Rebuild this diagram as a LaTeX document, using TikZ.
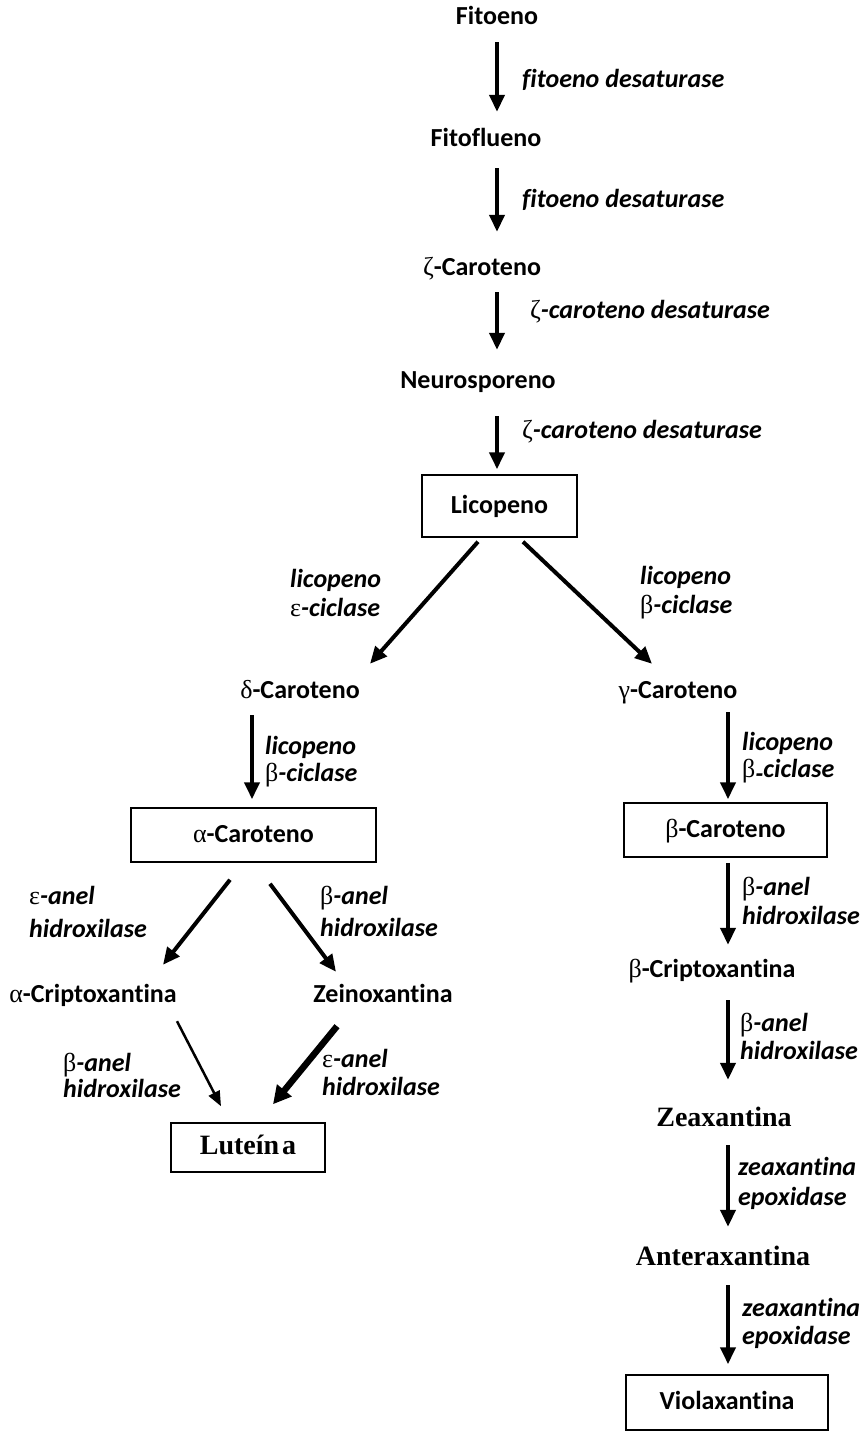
\documentclass[tikz,border=0pt]{standalone}
\usepackage{fontspec}
\setmainfont{Carlito}[Ligatures=NoCommon]
\newfontfamily\grkfont{Liberation Serif}
\newfontfamily\tmsfont{Liberation Serif}
\usetikzlibrary{arrows.meta,calc}
\newcommand\gk[1]{{\grkfont\mdseries\upshape #1}}
\begin{document}
\begin{tikzpicture}[x=1pt,y=-1pt,
  mol/.style={font=\fontsize{26}{30}\selectfont\bfseries, inner sep=0pt, text height=18pt, text depth=4pt, anchor=center},
  tmol/.style={font=\fontsize{28}{32}\selectfont\tmsfont\bfseries, inner sep=0pt, text height=18pt, text depth=4pt, anchor=center},
  molbox/.style={draw, line width=1.5pt, inner sep=0pt, text height=18pt, text depth=4pt, font=\fontsize{26}{30}\selectfont\bfseries},
  enz/.style={font=\fontsize{26}{28}\selectfont\bfseries\itshape, anchor=west, align=left, inner sep=0pt},
  arr/.style={line width=4pt, -{Triangle[length=17pt,width=15pt]}},
  thinarr/.style={line width=2.5pt, -{Triangle[length=15pt,width=12pt]}},
  thickarr/.style={line width=6.5pt, -{Triangle[length=18pt,width=18pt]}},
]
\useasboundingbox (0,0) rectangle (865,1432);
\fill[white] (0,0) rectangle (865,1432);

% molecules
\node[mol] (fitoeno) at (497,17) {Fitoeno};
\node[mol] (fitoflueno) at (486,139) {Fitoflueno};
\node[mol] (zcar) at (482,268) {\gk{ζ}-Caroteno};
\node[mol] (neuro) at (478,381) {Neurosporeno};
\node[molbox, minimum width=155pt, minimum height=62pt] (licopeno) at (499.5,506) {Licopeno};
\node[mol] (dcar) at (300,691) {\gk{δ}-Caroteno};
\node[mol] (gcar) at (678,691) {\gk{γ}-Caroteno};
\node[molbox, minimum width=245pt, minimum height=54pt] (acar) at (253.5,835) {\gk{α}-Caroteno};
\node[molbox, minimum width=203pt, minimum height=54pt] (bcar) at (725.5,830) {\gk{β}-Caroteno};
\node[mol] (bcrip) at (712,970) {\gk{β}-Criptoxantina};
\node[tmol] (zea) at (724,1119) {Zeaxantina};
\node[tmol] (anter) at (723,1258) {Anteraxantina};
\node[molbox, minimum width=202pt, minimum height=55pt] (viol) at (727,1402.5) {Violaxantina};
\node[mol] (acrip) at (93,995) {\gk{α}-Criptoxantina};
\node[mol] (zein) at (383,995) {Zeinoxantina};
\node[molbox, minimum width=154pt, minimum height=49pt, font=\fontsize{28}{32}\selectfont\tmsfont\bfseries] (lut) at (248,1147.5) {Luteín\hspace{3pt}a};

% enzymes
\node[enz] (e1) at (522,80) {fitoeno desaturase};
\node[enz] (e2) at (522,200) {fitoeno desaturase};
\node[enz] (e3) at (530,312) {\gk{ζ}-caroteno desaturase};
\node[enz] (e4) at (522,432) {\gk{ζ}-caroteno desaturase};
\node[enz, font=\fontsize{26}{29}\selectfont\bfseries\itshape] (e5) at (290,592.5) {licopeno\\\gk{ε}-ciclase};
\node[enz, font=\fontsize{26}{29}\selectfont\bfseries\itshape] (e6) at (640,592.5) {licopeno\\\gk{β}-ciclase};
\node[enz, font=\fontsize{26}{27}\selectfont\bfseries\itshape] (e7) at (265,761.5) {licopeno\\\gk{β}-ciclase};
\node[enz, font=\fontsize{26}{27}\selectfont\bfseries\itshape] (e8) at (742,757.5) {licopeno\\\gk{β}\raisebox{-5pt}{-}ciclase};
\node[enz, font=\fontsize{26}{29}\selectfont\bfseries\itshape] (e9) at (742,900.5) {\gk{β}-anel\\hidroxilase};
\node[enz, font=\fontsize{26}{28}\selectfont\bfseries\itshape] (e10) at (740,1036) {\gk{β}-anel\\hidroxilase};
\node[enz, font=\fontsize{26}{30}\selectfont\bfseries\itshape] (e11) at (738,1183) {zeaxantina\\epoxidase};
\node[enz, font=\fontsize{26}{28}\selectfont\bfseries\itshape] (e12) at (742,1323) {zeaxantina\\epoxidase};
\node[enz, font=\fontsize{26}{33}\selectfont\bfseries\itshape] (e13) at (29,911.5) {\gk{ε}-anel\\hidroxilase};
\node[enz, font=\fontsize{26}{32}\selectfont\bfseries\itshape] (e14) at (320,911) {\gk{β}-anel\\hidroxilase};
\node[enz, font=\fontsize{26}{26}\selectfont\bfseries\itshape] (e15) at (63,1075.5) {\gk{β}-anel\\hidroxilase};
\node[enz, font=\fontsize{26}{28}\selectfont\bfseries\itshape] (e16) at (322,1072) {\gk{ε}-anel\\hidroxilase};

% arrows
\draw[arr] ($(fitoeno.south)+(0,14)$) -- ($(fitoflueno.north)+(11,-16)$);
\draw[arr] ($(fitoflueno.south)+(11,18)$) -- ($(zcar.north)+(15,-25)$);
\draw[arr] ($(zcar.south)+(15,13)$) -- ($(neuro.north)+(19,-20)$);
\draw[arr] ($(neuro.south)+(19,24)$) -- ($(licopeno.north)+(-2.5,-5)$);
\draw[arr] ($(licopeno.south)+(-21.5,4)$) -- ($(dcar.north)+(70,-16)$);
\draw[arr] ($(licopeno.south)+(23.5,4)$) -- ($(gcar.north)+(-26,-16)$);
\draw[arr] ($(dcar.south)+(-48,13)$) -- ($(acar.north)+(-1.5,-8)$);
\draw[arr] ($(gcar.south)+(50,10)$) -- ($(bcar.north)+(2.5,-3)$);
\draw[arr] ($(bcar.south)+(2.5,5)$) -- ($(bcrip.north)+(16,-14)$);
\draw[arr] ($(bcrip.south)+(16,19)$) -- ($(zea.north)+(4,-28)$);
\draw[arr] ($(zea.south)+(4,15)$) -- ($(anter.north)+(5,-20)$);
\draw[arr] ($(anter.south)+(5,16)$) -- ($(viol.north)+(1,-10)$);
\draw[arr] ($(acar.south)+(-23.5,17)$) -- ($(acrip.north)+(70,-19)$);
\draw[arr] ($(acar.south)+(16.5,21)$) -- ($(zein.north)+(-47,-12)$);
\draw[thinarr] ($(acrip.south)+(84,15)$) -- ($(lut.north)+(-27,-16)$);
\draw[thickarr] ($(zein.south)+(-46,20)$) -- ($(lut.north)+(25,-18)$);
\end{tikzpicture}
\end{document}
